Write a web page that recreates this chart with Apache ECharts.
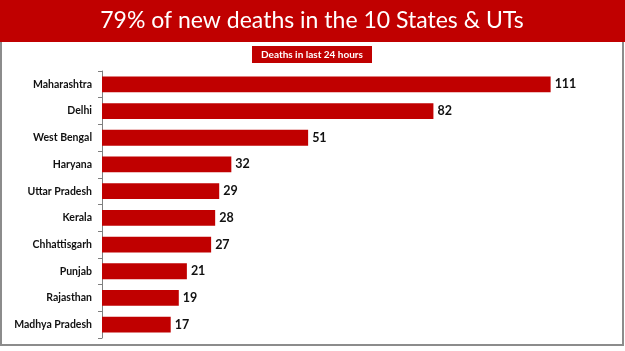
<!DOCTYPE html>
<html>
<head>
<meta charset="utf-8">
<script src="https://cdn.jsdelivr.net/npm/echarts@6/dist/echarts.min.js"></script>
<style>
    html, body { margin: 0; padding: 0; background: #fff; }
    #chart { width: 625px; height: 351px; }
</style>
</head>
<body>
<div id="chart"></div>
<script>
// 数据
var states = ['Maharashtra', 'Delhi', 'West Bengal', 'Haryana', 'Uttar Pradesh',
    'Kerala', 'Chhattisgarh', 'Punjab', 'Rajasthan', 'Madhya Pradesh'];
var deaths = [111, 82, 51, 32, 29, 28, 27, 21, 19, 17];

// 渲染图表
var chart = echarts.init(document.getElementById('chart'));
var option = {
    backgroundColor: '#fff',
    animation: false,
    graphic: [
        // 外框
        { type: 'rect', shape: { x: 1, y: 1, width: 622, height: 344 },
          style: { fill: 'none', stroke: '#8c8c8c', lineWidth: 2 } },
        // 顶部红条
        { type: 'rect', shape: { x: 0, y: 0, width: 625, height: 42 },
          style: { fill: '#C00000' } },
        { type: 'text', x: 312, y: 21,
          style: { text: '79% of new deaths in the 10 States & UTs', fill: '#fff',
                   font: '23px Lato', align: 'center', verticalAlign: 'middle' } },
        // 小标题
        { type: 'rect', shape: { x: 252, y: 46, width: 120, height: 17 },
          style: { fill: '#C00000' } },
        { type: 'text', x: 312, y: 55,
          style: { text: 'Deaths in last 24 hours', fill: '#fff',
                   font: 'bold 10px Lato', align: 'center', verticalAlign: 'middle' } }
    ],
    grid: { left: 102, right: 38, top: 71, bottom: 13 },
    xAxis: {
        type: 'value', min: 0, max: 120, show: false
    },
    yAxis: {
        type: 'category',
        data: states,
        inverse: true,
        axisLine: { lineStyle: { color: '#7f7f7f', width: 1 } },
        axisTick: { show: true, length: 4, lineStyle: { color: '#7f7f7f' } },
        axisLabel: { color: '#111', fontFamily: 'Lato', fontWeight: 'bold', fontSize: 10.5, margin: 10 }
    },
    series: [{
        type: 'bar',
        data: deaths,
        barWidth: '59%',
        itemStyle: { color: '#C00000' },
        label: {
            show: true, position: 'right', distance: 4,
            color: '#111', fontFamily: 'Lato', fontWeight: 'bold', fontSize: 12.5
        }
    }]
};
chart.setOption(option);
</script>
</body>
</html>
